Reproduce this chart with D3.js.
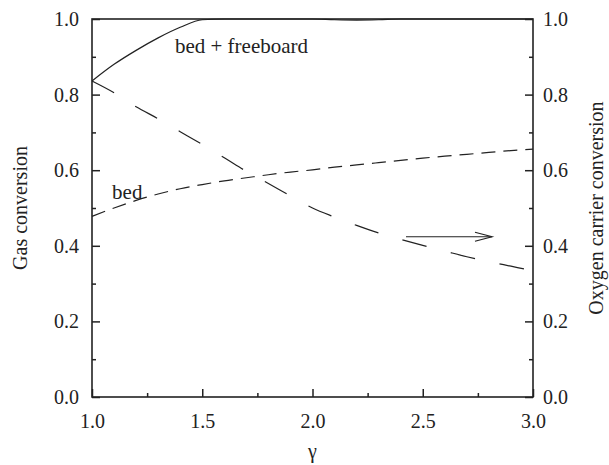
<!DOCTYPE html>
<html>
<head>
<meta charset="utf-8">
<script src="https://cdn.jsdelivr.net/npm/d3@7"></script>
<style>
  html, body { margin: 0; padding: 0; background: #fff; }
  svg { display: block; }
  text { font-family: "Liberation Serif", "Times New Roman", serif; fill: #222; }
</style>
</head>
<body>
<svg id="chart" width="609" height="465"></svg>
<script>
// gamma values shared by all curves
const gamma = [1.0, 1.1, 1.2, 1.3, 1.4, 1.5, 1.6, 1.7, 1.8, 1.9, 2.0,
               2.1, 2.2, 2.3, 2.4, 2.5, 2.6, 2.7, 2.8, 2.9, 3.0];

// gas conversion, bed + freeboard (solid)
const gasBedFreeboard = [0.836, 0.880, 0.917, 0.950, 0.978, 0.998, 1.0, 1.0, 1.0, 1.0, 1.0,
                         0.998, 0.997, 0.998, 1.0, 1.0, 1.0, 1.0, 1.0, 1.0, 1.0];

// gas conversion, bed only (short dashes)
const gasBed = [0.478, 0.500, 0.520, 0.537, 0.551, 0.562, 0.572, 0.580, 0.588, 0.595, 0.601,
                0.608, 0.614, 0.620, 0.626, 0.632, 0.637, 0.642, 0.647, 0.652, 0.656];

// oxygen carrier conversion (long dashes, right axis)
const oxygenCarrier = [0.836, 0.805, 0.768, 0.736, 0.702, 0.668, 0.633, 0.597, 0.565, 0.532, 0.500,
                       0.476, 0.454, 0.434, 0.417, 0.401, 0.386, 0.371, 0.358, 0.346, 0.334];

const xMajorTicks = [1.0, 1.5, 2.0, 2.5, 3.0];
const xMinorTicks = [1.25, 1.75, 2.25, 2.75];
const yMajorTicks = [0.0, 0.2, 0.4, 0.6, 0.8, 1.0];
const yMinorTicks = [0.1, 0.3, 0.5, 0.7, 0.9];

const svg = d3.select("#chart");
const plotLeft = 92, plotRight = 533, plotTop = 19, plotBottom = 397;

const x = d3.scaleLinear().domain([1, 3]).range([plotLeft, plotRight]);
const yL = d3.scaleLinear().domain([0, 1]).range([plotBottom, plotTop]);
const yR = d3.scaleLinear().domain([0, 1]).range([plotBottom, plotTop]);

const fmt = d3.format(".1f");
const fontSize = 20;
const serif = '"Liberation Serif", "Times New Roman", serif';

function styleAxis(g) {
  g.attr("font-family", serif);
  g.select(".domain").remove();
  g.selectAll(".tick line").attr("stroke", "#222").attr("stroke-width", 1.5);
  g.selectAll("text").style("font-size", fontSize + "px")
    .style("font-family", serif).attr("fill", "#222");
}

// bottom axis
svg.append("g").attr("transform", `translate(0,${plotBottom})`)
  .call(d3.axisBottom(x).tickValues(xMajorTicks).tickFormat(fmt)
    .tickSizeInner(-8).tickSizeOuter(0).tickPadding(17))
  .call(styleAxis);
svg.append("g").attr("transform", `translate(0,${plotBottom})`)
  .call(d3.axisBottom(x).tickValues(xMinorTicks).tickFormat("")
    .tickSizeInner(-4).tickSizeOuter(0))
  .call(styleAxis);

// left axis
svg.append("g").attr("transform", `translate(${plotLeft},0)`)
  .call(d3.axisLeft(yL).tickValues(yMajorTicks).tickFormat(fmt)
    .tickSizeInner(-8).tickSizeOuter(0).tickPadding(13))
  .call(styleAxis);
svg.append("g").attr("transform", `translate(${plotLeft},0)`)
  .call(d3.axisLeft(yL).tickValues(yMinorTicks).tickFormat("")
    .tickSizeInner(-4).tickSizeOuter(0))
  .call(styleAxis);

// right axis
svg.append("g").attr("transform", `translate(${plotRight},0)`)
  .call(d3.axisRight(yR).tickValues(yMajorTicks).tickFormat(fmt)
    .tickSizeInner(-8).tickSizeOuter(0).tickPadding(10))
  .call(styleAxis);
svg.append("g").attr("transform", `translate(${plotRight},0)`)
  .call(d3.axisRight(yR).tickValues(yMinorTicks).tickFormat("")
    .tickSizeInner(-4).tickSizeOuter(0))
  .call(styleAxis);

// frame
svg.append("rect")
  .attr("x", plotLeft).attr("y", plotTop)
  .attr("width", plotRight - plotLeft).attr("height", plotBottom - plotTop)
  .attr("fill", "none").attr("stroke", "#222").attr("stroke-width", 1.6);

// curves
const lineL = d3.line().x((d, i) => x(gamma[i])).y(d => yL(d)).curve(d3.curveMonotoneX);
const lineR = d3.line().x((d, i) => x(gamma[i])).y(d => yR(d)).curve(d3.curveMonotoneX);

svg.append("path").datum(gasBedFreeboard).attr("d", lineL)
  .attr("fill", "none").attr("stroke", "#222").attr("stroke-width", 1.2);

svg.append("path").datum(gasBed).attr("d", lineL)
  .attr("fill", "none").attr("stroke", "#222").attr("stroke-width", 1.2)
  .attr("stroke-dasharray", "14,8");

svg.append("path").datum(oxygenCarrier).attr("d", lineR)
  .attr("fill", "none").attr("stroke", "#222").attr("stroke-width", 1.2)
  .attr("stroke-dasharray", "25,25");

// curve labels
svg.append("text").attr("x", x(1.376)).attr("y", yL(0.910))
  .style("font-family", serif).style("font-size", "21px").text("bed + freeboard");
svg.append("text").attr("x", x(1.091)).attr("y", yL(0.524))
  .style("font-family", serif).style("font-size", "21px").text("bed");

// arrow pointing to the right-hand axis
const arrowY = yR(0.424);
const ax0 = x(2.424), ax1 = x(2.814);
const arrow = svg.append("g").attr("stroke", "#222").attr("stroke-width", 1.2).attr("fill", "none");
arrow.append("line").attr("x1", ax0).attr("y1", arrowY).attr("x2", ax1).attr("y2", arrowY);
arrow.append("path")
  .attr("d", `M${ax1 - 17},${arrowY - 4.5}L${ax1},${arrowY}L${ax1 - 17},${arrowY + 4.5}`);

// axis titles
svg.append("text")
  .attr("transform", `translate(${(plotLeft + plotRight) / 2},458)`)
  .attr("text-anchor", "middle").style("font-family", serif)
  .style("font-size", fontSize + "px").text("γ");
svg.append("text")
  .attr("transform", `translate(27,${(plotTop + plotBottom) / 2}) rotate(-90)`)
  .attr("text-anchor", "middle").style("font-family", serif)
  .style("font-size", fontSize + "px").text("Gas conversion");
svg.append("text")
  .attr("transform", `translate(603,${(plotTop + plotBottom) / 2}) rotate(-90)`)
  .attr("text-anchor", "middle").style("font-family", serif)
  .style("font-size", fontSize + "px").text("Oxygen carrier conversion");
</script>
</body>
</html>
